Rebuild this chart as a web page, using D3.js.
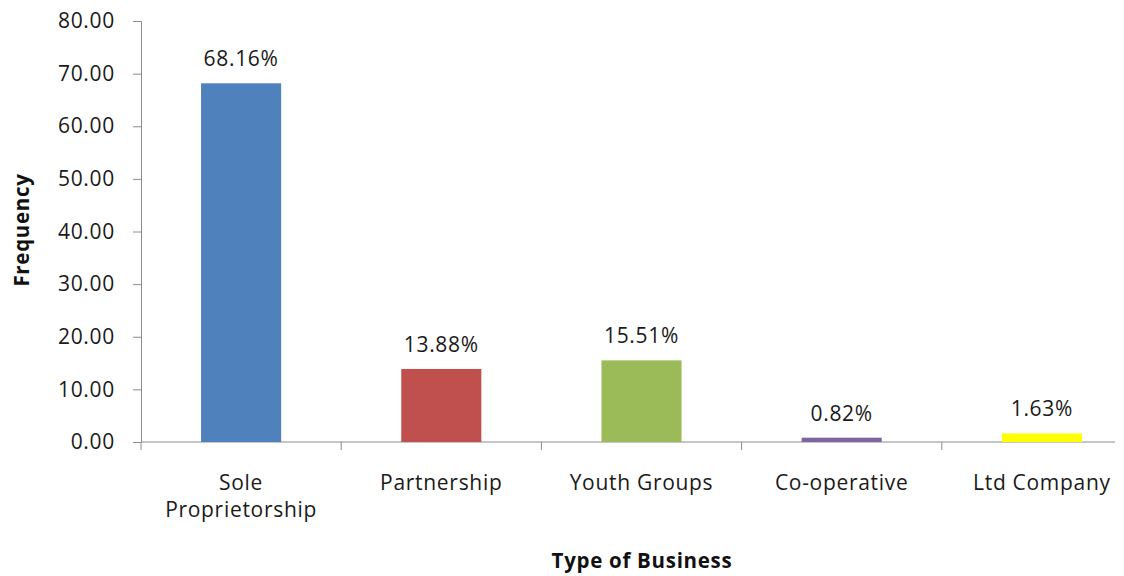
<!DOCTYPE html>
<html>
<head>
<meta charset="utf-8">
<script src="https://cdn.jsdelivr.net/npm/d3@7"></script>
<style>
  html, body { margin: 0; padding: 0; background: #fff; }
  svg { display: block; font-family: "Open Sans", "Liberation Sans", sans-serif; }
  text { letter-spacing: 0.7px; }
</style>
</head>
<body>
<svg id="chart" width="1124" height="576"></svg>
<script>
// Business types and their share (%)
const categories = [["Sole", "Proprietorship"], ["Partnership"], ["Youth Groups"], ["Co-operative"], ["Ltd Company"]];
const values = [68.16, 13.88, 15.51, 0.82, 1.63];
const valueLabels = ["68.16%", "13.88%", "15.51%", "0.82%", "1.63%"];
const barColors = ["#4F81BD", "#C0504D", "#9BBB59", "#8064A2", "#FFFF00"];
const yTicks = [0, 10, 20, 30, 40, 50, 60, 70, 80];

const svg = d3.select("#chart");
const plotLeft = 141, plotRight = 1142, plotTop = 21, plotBottom = 442;
const axisColor = "#8c8c8c";
const fontSize = 21;

const keys = categories.map((c, i) => i);
const x = d3.scaleBand().domain(keys).range([plotLeft, plotRight]).paddingInner(0.6).paddingOuter(0.3);
const y = d3.scaleLinear().domain([0, 80]).range([plotBottom, plotTop]);

// Y axis
const yAxis = svg.append("g")
  .attr("transform", `translate(${plotLeft},0)`)
  .call(d3.axisLeft(y).tickValues(yTicks).tickFormat(d3.format(".2f")).tickSize(8).tickPadding(18));
yAxis.select(".domain").attr("stroke", axisColor);
yAxis.selectAll(".tick line").attr("stroke", axisColor);
yAxis.selectAll(".tick text").attr("font-size", fontSize).attr("fill", "#1a1a1a")
  .attr("font-family", "Open Sans, sans-serif");

// X axis baseline and category separators
const step = x.step();
const bounds = d3.range(keys.length).map(i => plotLeft + i * step);
svg.append("line")
  .attr("x1", plotLeft).attr("x2", 1115).attr("y1", plotBottom).attr("y2", plotBottom)
  .attr("stroke", axisColor);
svg.selectAll(".xtick").data(bounds).join("line")
  .attr("x1", d => d).attr("x2", d => d)
  .attr("y1", plotBottom).attr("y2", plotBottom + 8)
  .attr("stroke", axisColor);

// Bars
svg.selectAll(".bar").data(values).join("rect")
  .attr("x", (d, i) => x(i))
  .attr("width", x.bandwidth())
  .attr("y", d => y(d))
  .attr("height", d => y(0) - y(d))
  .attr("fill", (d, i) => barColors[i]);

// Value labels
svg.selectAll(".vlabel").data(values).join("text")
  .attr("x", (d, i) => x(i) + x.bandwidth() / 2)
  .attr("y", d => y(d) - 17)
  .attr("text-anchor", "middle")
  .attr("font-size", fontSize)
  .attr("fill", "#1a1a1a")
  .text((d, i) => valueLabels[i]);

// Category labels
const catG = svg.selectAll(".cat").data(categories).join("text")
  .attr("text-anchor", "middle")
  .attr("font-size", fontSize)
  .attr("fill", "#1a1a1a");
catG.each(function(lines, i) {
  const t = d3.select(this);
  lines.forEach((ln, j) => {
    t.append("tspan")
      .attr("x", x(i) + x.bandwidth() / 2)
      .attr("y", 490 + j * 27)
      .text(ln);
  });
});

// Axis titles
svg.append("text")
  .attr("x", 642).attr("y", 568)
  .attr("text-anchor", "middle")
  .attr("font-size", 20.5).attr("font-weight", "bold")
  .attr("fill", "#111")
  .text("Type of Business");

svg.append("text")
  .attr("transform", "translate(29,230) rotate(-90)")
  .attr("text-anchor", "middle")
  .attr("font-size", 20.5).attr("font-weight", "bold")
  .attr("fill", "#111")
  .text("Frequency");
</script>
</body>
</html>
